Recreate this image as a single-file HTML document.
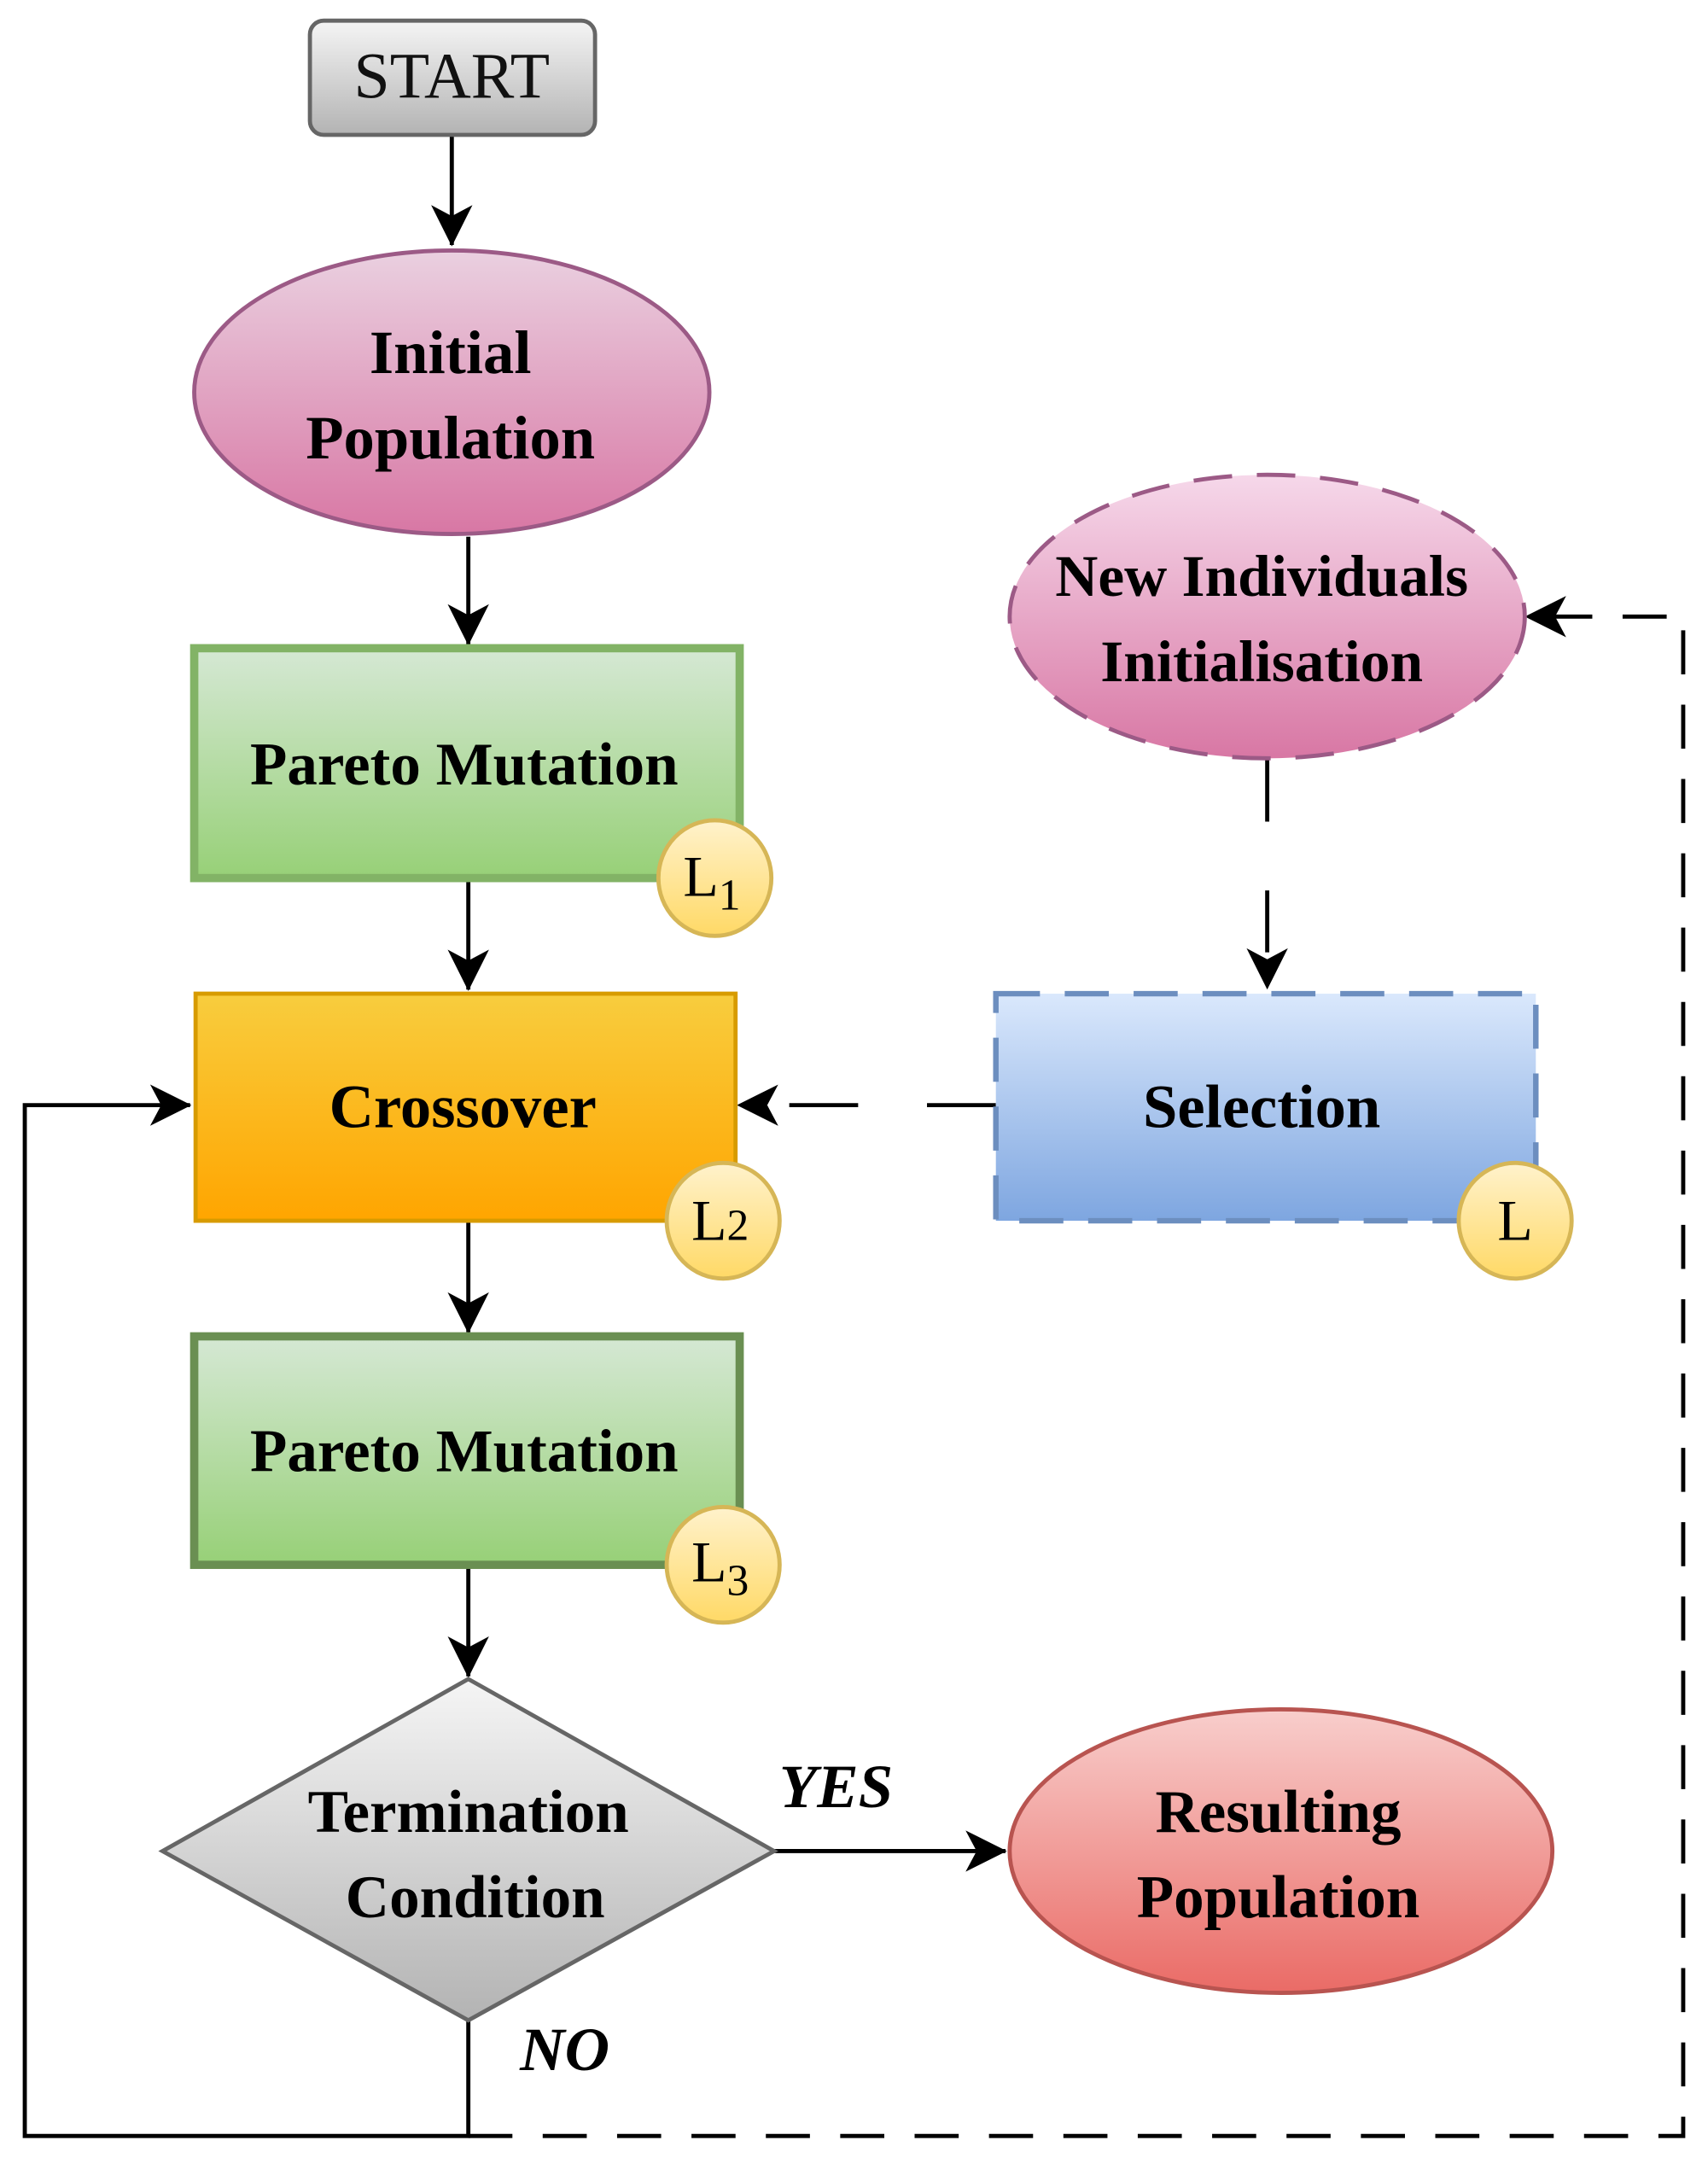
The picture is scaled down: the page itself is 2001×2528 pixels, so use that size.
<!DOCTYPE html>
<html><head><meta charset="utf-8"><style>html,body{margin:0;padding:0;background:#fff}svg{display:block}</style></head>
<body>
<svg width="2001" height="2528" viewBox="0 0 1240 1568" preserveAspectRatio="none" xmlns="http://www.w3.org/2000/svg" font-family="'Liberation Serif', serif">
<defs>
<linearGradient id="gGray" x1="0" y1="0" x2="0" y2="1"><stop offset="0" stop-color="#f5f5f5"/><stop offset="1" stop-color="#b3b3b3"/></linearGradient>
<linearGradient id="gPink" x1="0" y1="0" x2="0" y2="1"><stop offset="0" stop-color="#ead0e0"/><stop offset="1" stop-color="#d877a4"/></linearGradient>
<linearGradient id="gPink2" x1="0" y1="0" x2="0" y2="1"><stop offset="0" stop-color="#f6d8ea"/><stop offset="1" stop-color="#d877a4"/></linearGradient>
<linearGradient id="gGreen" x1="0" y1="0" x2="0" y2="1"><stop offset="0" stop-color="#d5e8d4"/><stop offset="1" stop-color="#97d077"/></linearGradient>
<linearGradient id="gOrange" x1="0" y1="0" x2="0" y2="1"><stop offset="0" stop-color="#f8cd3e"/><stop offset="1" stop-color="#ffa500"/></linearGradient>
<linearGradient id="gBlue" x1="0" y1="0" x2="0" y2="1"><stop offset="0" stop-color="#dae8fc"/><stop offset="1" stop-color="#7ea6e0"/></linearGradient>
<linearGradient id="gRed" x1="0" y1="0" x2="0" y2="1"><stop offset="0" stop-color="#f8cecc"/><stop offset="1" stop-color="#ea6b66"/></linearGradient>
<linearGradient id="gYel" x1="0" y1="0" x2="0" y2="1"><stop offset="0" stop-color="#fff2cc"/><stop offset="1" stop-color="#ffd966"/></linearGradient>
<marker id="arL" viewBox="0 0 30 30" refX="29" refY="15" markerWidth="30" markerHeight="30" markerUnits="userSpaceOnUse" orient="auto">
<path d="M0,0 L30,15 L0,30 L8,15 Z" fill="#000"/></marker>
</defs>

<g stroke="#000" stroke-width="3" fill="none">
<line x1="328" y1="98" x2="328" y2="178" marker-end="url(#arL)"/>
<line x1="340" y1="390" x2="340" y2="468" marker-end="url(#arL)"/>
<line x1="340" y1="640" x2="340" y2="719" marker-end="url(#arL)"/>
<line x1="340" y1="887" x2="340" y2="968" marker-end="url(#arL)"/>
<line x1="340" y1="1137" x2="340" y2="1218" marker-end="url(#arL)"/>
<line x1="562" y1="1345" x2="730" y2="1345" marker-end="url(#arL)"/>
<polyline points="340,1468 340,1552 18,1552 18,803 138,803" marker-end="url(#arL)"/>
<polyline points="340,1552 1222,1552 1222,448 1108,448" stroke-dasharray="32,22" marker-end="url(#arL)"/>
<line x1="920" y1="552" x2="920" y2="718" stroke-dasharray="45,50" marker-end="url(#arL)"/>
<line x1="723" y1="803" x2="536" y2="803" stroke-dasharray="50,50" marker-end="url(#arL)"/>
</g>

<rect x="225" y="15" width="207" height="83" rx="10" fill="url(#gGray)" stroke="#666" stroke-width="3"/>
<text x="328" y="71" font-size="47" text-anchor="middle" fill="#111">START</text>

<ellipse cx="328" cy="285" rx="187" ry="103" fill="url(#gPink)" stroke="#9c5a86" stroke-width="3"/>
<g font-weight="bold" font-size="45" text-anchor="middle" fill="#000">
<text x="327" y="271">Initial</text>
<text x="327" y="333">Population</text>
</g>

<rect x="141" y="471" width="396" height="167" fill="url(#gGreen)" stroke="#82b366" stroke-width="6"/>
<text x="337" y="570" font-weight="bold" font-size="44" text-anchor="middle">Pareto Mutation</text>

<rect x="142" y="722" width="392" height="165" fill="url(#gOrange)" stroke="#d79b00" stroke-width="3"/>
<text x="336" y="819" font-weight="bold" font-size="45" text-anchor="middle">Crossover</text>

<rect x="141" y="971" width="396" height="166" fill="url(#gGreen)" stroke="#6a8f52" stroke-width="6"/>
<text x="337" y="1069" font-weight="bold" font-size="44" text-anchor="middle">Pareto Mutation</text>

<polygon points="340,1220 562,1345 340,1468 118,1345" fill="url(#gGray)" stroke="#666" stroke-width="3"/>
<g font-weight="bold" font-size="44" text-anchor="middle">
<text x="340" y="1331">Termination</text>
<text x="345" y="1393">Condition</text>
</g>
<text x="607" y="1313" font-weight="bold" font-style="italic" font-size="45" text-anchor="middle">YES</text>
<text x="410" y="1504" font-weight="bold" font-style="italic" font-size="45" text-anchor="middle">NO</text>

<ellipse cx="930" cy="1345" rx="197" ry="103" fill="url(#gRed)" stroke="#b85450" stroke-width="3"/>
<g font-weight="bold" font-size="44" text-anchor="middle">
<text x="928" y="1331">Resulting</text>
<text x="928" y="1393">Population</text>
</g>

<ellipse cx="920" cy="448" rx="187" ry="103" fill="url(#gPink2)" stroke="#9c5a86" stroke-width="3" stroke-dasharray="28,18"/>
<g font-weight="bold" font-size="43" text-anchor="middle">
<text x="916" y="433">New Individuals</text>
<text x="916" y="495">Initialisation</text>
</g>

<rect x="723" y="722" width="392" height="165" fill="url(#gBlue)" stroke="#6c8ebf" stroke-width="4" stroke-dasharray="32,18"/>
<text x="916" y="819" font-weight="bold" font-size="45" text-anchor="middle">Selection</text>

<g fill="url(#gYel)" stroke="#d6b656" stroke-width="3">
<ellipse cx="519" cy="638" rx="41" ry="42"/>
<ellipse cx="525" cy="887" rx="41" ry="42"/>
<ellipse cx="525" cy="1137" rx="41" ry="42"/>
<ellipse cx="1100" cy="887" rx="41" ry="42"/>
</g>
<g font-size="42" fill="#000">
<text x="496" y="651">L<tspan font-size="32" dy="10">1</tspan></text>
<text x="502" y="901">L<tspan font-size="32">2</tspan></text>
<text x="502" y="1149">L<tspan font-size="32" dy="10">3</tspan></text>
<text x="1100" y="901" text-anchor="middle">L</text>
</g>
</svg>
</body></html>
